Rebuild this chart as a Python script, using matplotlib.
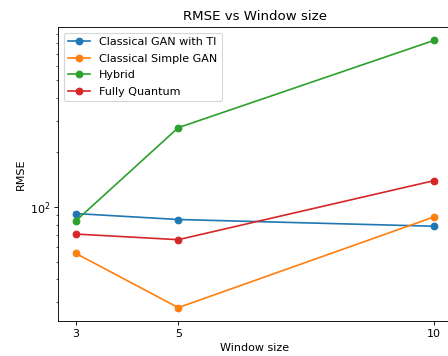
import matplotlib
matplotlib.use("Agg")
import matplotlib.pyplot as plt

window_sizes = [3, 5, 10]
gan_ti = [92.1, 85.4, 78.4]
simple_gan = [55.5, 27.9, 88.3]
hybrid = [84.0, 274.0, 830.0]
fully_quantum = [71.0, 66.1, 139.9]

fig = plt.figure(figsize=(448/80, 356/80), dpi=80)
ax = fig.add_axes([58/448, 35/356, (452-58)/448, (321-27)/356])
ax.plot(window_sizes, gan_ti, marker='o', label='Classical GAN with TI')
ax.plot(window_sizes, simple_gan, marker='o', label='Classical Simple GAN')
ax.plot(window_sizes, hybrid, marker='o', label='Hybrid')
ax.plot(window_sizes, fully_quantum, marker='o', label='Fully Quantum')
ax.set_yscale('log')
ax.set_xticks(window_sizes)
ax.set_xticklabels([str(w) for w in window_sizes])
ax.set_xlabel('Window size')
ax.set_ylabel('RMSE')
ax.set_title('RMSE vs Window size')
ax.legend(loc='upper left', labelspacing=0.6)
fig.savefig('out.png', dpi=80)
